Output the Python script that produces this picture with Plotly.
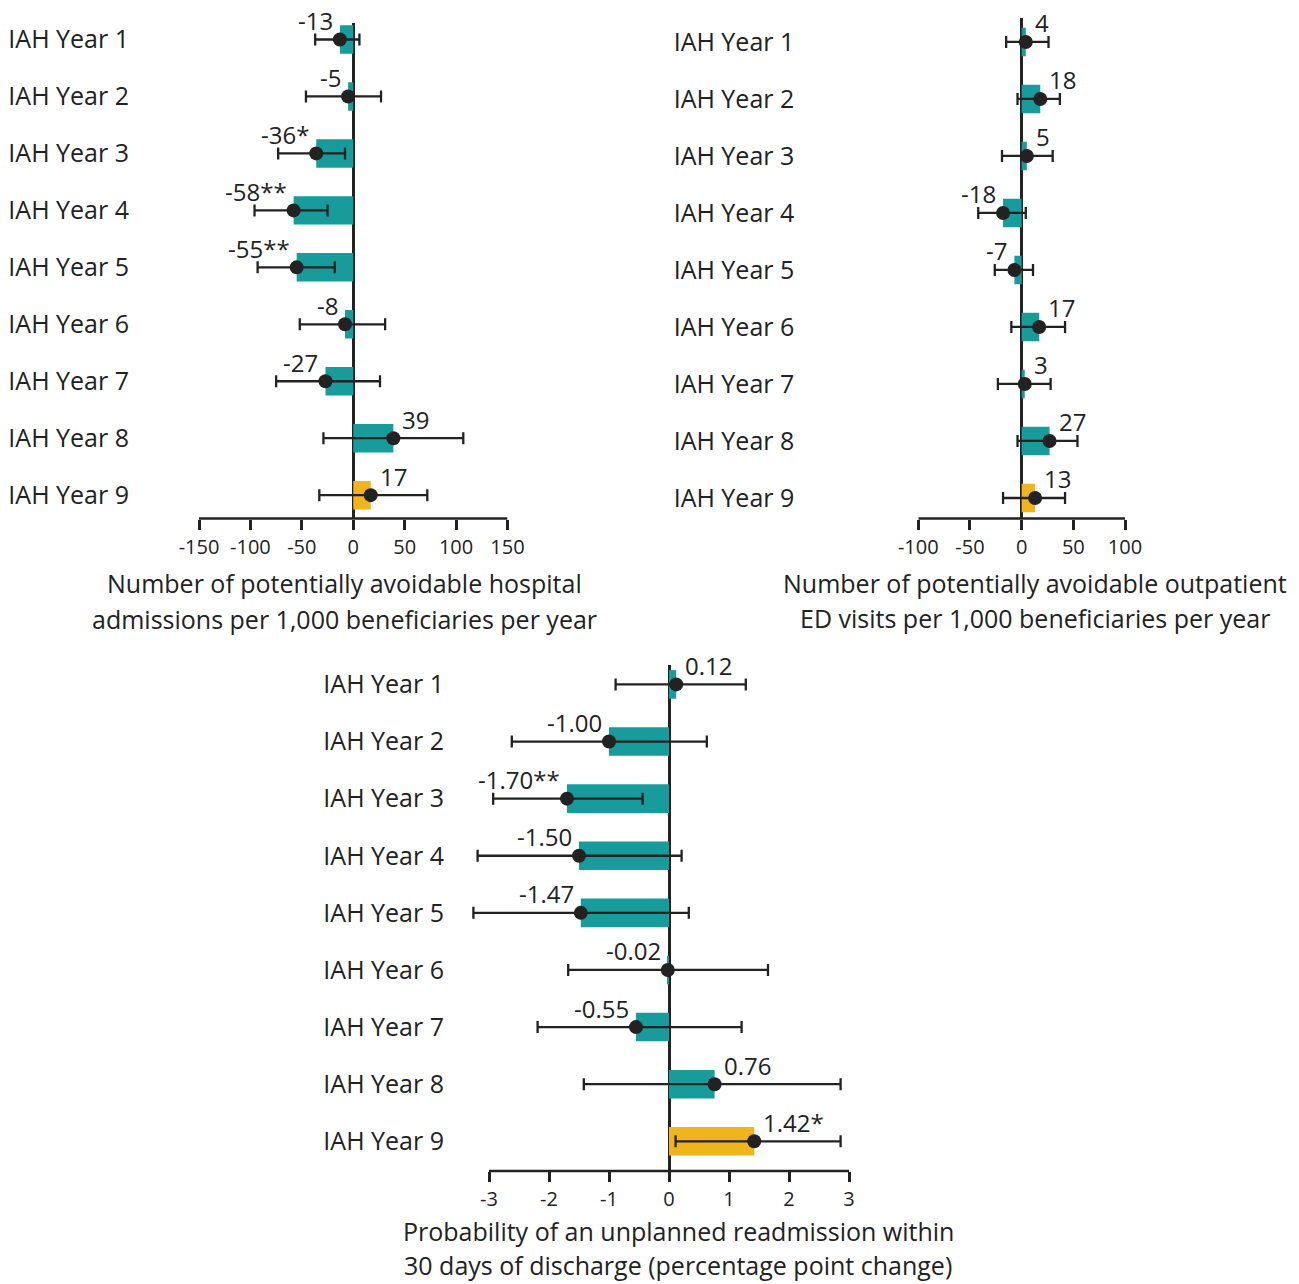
import plotly.graph_objects as go

categories = [f"IAH Year {i}" for i in range(1, 10)]

# Panel 1: potentially avoidable hospital admissions
adm_values = [-13, -5, -36, -58, -55, -8, -27, 39, 17]
adm_labels = ["-13", "-5", "-36*", "-58**", "-55**", "-8", "-27", "39", "17"]
adm_lower = [-37, -46, -73, -96, -93, -52, -75, -29, -33]
adm_upper = [6, 27, -8, -25, -18, 31, 26, 107, 72]
adm_ticks = [-150, -100, -50, 0, 50, 100, 150]

# Panel 2: potentially avoidable outpatient ED visits
ed_values = [4, 18, 5, -18, -7, 17, 3, 27, 13]
ed_labels = ["4", "18", "5", "-18", "-7", "17", "3", "27", "13"]
ed_lower = [-15, -4, -19, -42, -26, -10, -23, -4, -18]
ed_upper = [26, 37, 30, 4, 11, 42, 28, 54, 42]
ed_ticks = [-100, -50, 0, 50, 100]

# Panel 3: unplanned readmission within 30 days
rd_values = [0.12, -1.00, -1.70, -1.50, -1.47, -0.02, -0.55, 0.76, 1.42]
rd_labels = ["0.12", "-1.00", "-1.70**", "-1.50", "-1.47", "-0.02", "-0.55", "0.76", "1.42*"]
rd_lower = [-0.89, -2.62, -2.93, -3.19, -3.26, -1.68, -2.19, -1.42, 0.11]
rd_upper = [1.28, 0.63, -0.44, 0.21, 0.33, 1.65, 1.21, 2.86, 2.86]
rd_ticks = [-3, -2, -1, 0, 1, 2, 3]

TEAL = "#179b9b"
GOLD = "#f0b41c"
INK = "#222222"
FONT = "Open Sans"

W, H = 1299, 1284

panels = [
    dict(vals=adm_values, labs=adm_labels, lo=adm_lower, hi=adm_upper, ticks=adm_ticks,
         xr=[-150, 150], xline=[-150, 150], xpx=(199, 507.5), ypx=(23, 518.5), yr=[8.41, -0.29],
         standoff=69,
         title=["Number of potentially avoidable hospital",
                "admissions per 1,000 beneficiaries per year"],
         tx=345, ty=(583, 619)),
    dict(vals=ed_values, labs=ed_labels, lo=ed_lower, hi=ed_upper, ticks=ed_ticks,
         xr=[-100, 100], xline=[-100, 100], xpx=(918.3, 1125), ypx=(18, 518.5), yr=[8.36, -0.42],
         standoff=123,
         title=["Number of potentially avoidable outpatient",
                "ED visits per 1,000 beneficiaries per year"],
         tx=1035, ty=(583, 618)),
    dict(vals=rd_values, labs=rd_labels, lo=rd_lower, hi=rd_upper, ticks=rd_ticks,
         xr=[-3.4, 3], xline=[-3, 3], xpx=(465, 849), ypx=(665, 1171), yr=[8.52, -0.34],
         standoff=20,
         title=["Probability of an unplanned readmission within",
                "30 days of discharge (percentage point change)"],
         tx=678, ty=(1231, 1265)),
]

fig = go.Figure()
annotations = []
shapes = []
for i, p in enumerate(panels):
    n = i + 1
    xa = "x" if n == 1 else f"x{n}"
    ya = "y" if n == 1 else f"y{n}"
    colors = [TEAL] * (len(categories) - 1) + [GOLD]
    fig.add_trace(go.Bar(
        x=p["vals"], y=categories, orientation="h", marker=dict(color=colors, line=dict(width=0)),
        width=0.5, xaxis=xa, yaxis=ya, showlegend=False, hoverinfo="skip"))
    plus = [h - v for h, v in zip(p["hi"], p["vals"])]
    minus = [v - l for l, v in zip(p["lo"], p["vals"])]
    fig.add_trace(go.Scatter(
        x=p["vals"], y=categories, mode="markers",
        marker=dict(color=INK, size=14),
        error_x=dict(type="data", array=plus, arrayminus=minus, color=INK, thickness=2.3, width=6),
        xaxis=xa, yaxis=ya, showlegend=False, cliponaxis=False))
    for v, lab, cat in zip(p["vals"], p["labs"], categories):
        neg = v < 0
        annotations.append(dict(x=v, y=cat, xref=xa, yref=ya, text=lab, showarrow=False,
                                xanchor="right" if neg else "left", yanchor="middle",
                                xshift=-5 if neg else 7, yshift=19,
                                font=dict(family=FONT, size=24, color=INK)))
    xdom = [p["xpx"][0] / W, p["xpx"][1] / W]
    ydom = [(H - p["ypx"][1]) / H, (H - p["ypx"][0]) / H]
    xkey = "xaxis" if n == 1 else f"xaxis{n}"
    ykey = "yaxis" if n == 1 else f"yaxis{n}"
    fig.update_layout(**{
        xkey: dict(domain=xdom, anchor=ya, range=p["xr"], tickvals=p["ticks"],
                   ticktext=[str(t) for t in p["ticks"]], automargin=False,
                   showgrid=False, zeroline=True, zerolinecolor=INK, zerolinewidth=2.5,
                   showline=False,
                   ticks="outside", ticklen=10, tickwidth=2.5, tickcolor=INK,
                   tickfont=dict(family=FONT, size=20, color=INK), fixedrange=True),
        ykey: dict(domain=ydom, anchor=xa, range=p["yr"], showgrid=False, zeroline=False,
                   showline=False, ticks="", ticklabelstandoff=p["standoff"], automargin=False,
                   tickfont=dict(family=FONT, size=25, color=INK), fixedrange=True),
    })
    shapes.append(dict(type="line", xref=xa, yref=f"{ya} domain", x0=p["xline"][0], x1=p["xline"][1],
                       y0=0, y1=0, line=dict(color=INK, width=2.5)))
    for line_text, ly in zip(p["title"], p["ty"]):
        annotations.append(dict(x=p["tx"] / W, y=(H - ly) / H, xref="paper", yref="paper",
                                text=line_text, showarrow=False, xanchor="center", yanchor="middle",
                                font=dict(family=FONT, size=25, color=INK)))

fig.update_layout(width=W, height=H, autosize=False, margin=dict(l=0, r=0, t=0, b=0, pad=0),
                  paper_bgcolor="white", plot_bgcolor="white", annotations=annotations,
                  shapes=shapes, font=dict(family=FONT, color=INK))

fig.write_html("out.html", config={"responsive": False})
